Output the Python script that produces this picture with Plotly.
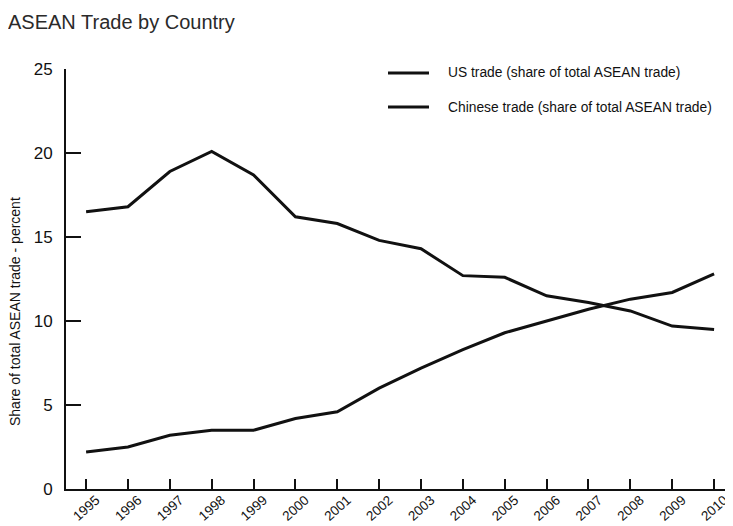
import plotly.graph_objects as go

years = list(range(1995, 2011))
year_labels = [str(y) for y in years]
us_share = [16.5, 16.8, 18.9, 20.1, 18.7, 16.2, 15.8, 14.8, 14.3, 12.7, 12.6, 11.5, 11.1, 10.6, 9.7, 9.5]
china_share = [2.2, 2.5, 3.2, 3.5, 3.5, 4.2, 4.6, 6.0, 7.2, 8.3, 9.3, 10.0, 10.7, 11.3, 11.7, 12.8]
series_names = ["US trade (share of total ASEAN trade)", "Chinese trade (share of total ASEAN trade)"]
y_ticks = [0, 5, 10, 15, 20, 25]

FONT = "Liberation Sans, Arial, sans-serif"
INK = "#111111"

# page has an 8px body margin: figure size/positions are in figure pixels
OFF = 8
W, H = 733 - OFF, 526 - OFF
L, R, T, B = 66 - OFF, 3, 69 - OFF, 37
pw = W - L - R
ph = H - T - B


def px_x(page_x):
    return (page_x - OFF - L) / pw


def px_y(page_y):
    return 1 - (page_y - OFF - T) / ph


fig = go.Figure()
for name, vals in zip(series_names, [us_share, china_share]):
    fig.add_trace(go.Scatter(x=years, y=vals, mode="lines", name=name,
                             line=dict(color=INK, width=3), showlegend=False))

# legend drawn manually
leg_y_px = [73, 107]
for name, ypx in zip(series_names, leg_y_px):
    yp = px_y(ypx)
    fig.add_shape(type="line", xref="paper", yref="paper", x0=px_x(388), x1=px_x(429), y0=yp, y1=yp,
                  line=dict(color=INK, width=3))
    fig.add_annotation(xref="paper", yref="paper", x=px_x(446), y=yp, text=name,
                       showarrow=False, xanchor="left", yanchor="middle",
                       font=dict(family=FONT, size=13.8, color=INK))

fig.add_annotation(xref="paper", yref="paper", x=px_x(15), y=px_y(312),
                   text="Share of total ASEAN trade - percent",
                   textangle=-90, showarrow=False, xanchor="center", yanchor="middle",
                   font=dict(family=FONT, size=14, color=INK))

fig.update_layout(
    width=W, height=H,
    margin=dict(l=L, r=R, t=T, b=B, autoexpand=False),
    paper_bgcolor="white", plot_bgcolor="white",
    title=dict(text="ASEAN Trade by Country", x=0, xanchor="left", y=1 - (22 - OFF) / H, yanchor="middle",
               font=dict(family=FONT, size=20, color="#2a2a2a")),
    xaxis=dict(range=[1994.52, 2010.38], tickvals=years, ticktext=year_labels, tickangle=-42,
               ticks="inside", ticklen=10, tickwidth=2, tickcolor=INK,
               showline=True, linecolor=INK, linewidth=2, showgrid=False, zeroline=False,
               tickfont=dict(family=FONT, size=13.5, color=INK), ticklabelshift=10,
               ticklabelstandoff=-4, automargin=False),
    yaxis=dict(range=[0, 25], tickvals=y_ticks, ticks="inside", ticklen=15, tickwidth=2, tickcolor=INK,
               showline=True, linecolor=INK, linewidth=2, showgrid=False, zeroline=False,
               tickfont=dict(family=FONT, size=17, color=INK), ticklabelstandoff=8, automargin=False),
)

fig.write_html("out.html")
